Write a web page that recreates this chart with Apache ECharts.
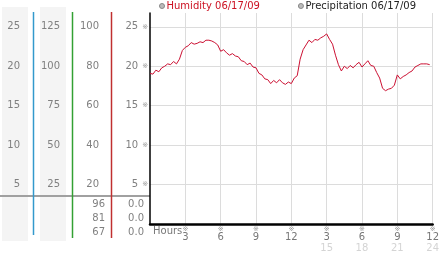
<!DOCTYPE html>
<html><head><meta charset="utf-8">
<script src="https://cdn.jsdelivr.net/npm/echarts@6/dist/echarts.min.js"></script>
<style>html,body{margin:0;padding:0;background:#fff}#c{width:442px;height:253px}</style>
</head><body><div id="c"></div>
<script>
const hours = [0,0.25,0.5,0.75,1,1.25,1.5,1.75,2,2.25,2.5,2.75,3,3.25,3.5,3.75,4,4.25,4.5,4.75,5,5.25,5.5,5.75,
  6,6.25,6.5,6.75,7,7.25,7.5,7.75,8,8.25,8.5,8.75,9,9.25,9.5,9.75,10,10.25,10.5,10.75,11,11.25,11.5,11.75,
  12,12.25,12.5,12.75,13,13.25,13.5,13.75,14,14.25,14.5,14.75,15,15.25,15.5,15.75,16,16.25,16.5,16.75,17,17.25,17.5,17.75,
  18,18.25,18.5,18.75,19,19.25,19.5,19.75,20,20.25,20.5,20.75,21,21.25,21.5,21.75,22,22.25,22.5,22.75,23,23.25,23.5,23.75];
const humidity = [19.1,19.0,19.5,19.3,19.8,20.0,20.3,20.2,20.6,20.3,20.9,22.0,22.4,22.6,23.0,22.8,22.9,23.1,23.0,23.3,23.3,23.2,23.0,22.7,
  21.9,22.1,21.7,21.4,21.6,21.3,21.2,20.7,20.6,20.2,20.4,19.9,19.8,19.1,18.9,18.4,18.3,17.8,18.2,17.9,18.3,17.9,17.7,18.0,
  17.8,18.5,18.8,20.9,22.1,22.7,23.3,23.0,23.4,23.3,23.6,23.8,24.1,23.4,22.8,21.4,20.2,19.4,20.0,19.7,20.1,19.8,20.2,20.5,
  19.9,20.3,20.7,20.1,20.0,19.2,18.5,17.2,16.9,17.1,17.2,17.6,18.9,18.4,18.7,18.9,19.2,19.4,19.9,20.1,20.3,20.3,20.3,20.2];
const precipitation = [];
const seriesNames = ['Humidity 06/17/09', 'Precipitation 06/17/09'];
const xTicks = [3,6,9,12,15,18,21,24];
const xLabelTop = ['3','6','9','12','3','6','9','12'];
const xLabelBottom = ['','','','','15','18','21','24'];
const col1Labels = [5,10,15,20,25];
const col2Labels = [25,50,75,100,125];
const col3Labels = [20,40,60,80,100];
const mainLabels = [5,10,15,20,25];
const rowsA = ['96','81','67'];
const rowsB = ['0.0','0.0','0.0'];

const FONT = 'DejaVu Sans';
const GREY = '#808080';
const MAXV = 26.75;

function sideAxis(factor, labels, offset) {
  return {
    type: 'value', position: 'left', offset: offset, min: 0, max: MAXV * factor, interval: 5 * factor,
    axisLine: {show: false}, axisTick: {show: false}, splitLine: {show: false},
    axisLabel: {
      margin: 0, showMinLabel: false, showMaxLabel: false, color: GREY, fontSize: 10, fontFamily: FONT,
      formatter: function (v) { return labels.indexOf(v) >= 0 ? String(v) : ''; }
    }
  };
}

const chart = echarts.init(document.getElementById('c'), null, {renderer: 'canvas'});
const graphics = [
  {type: 'rect', z: -10, shape: {x: 2, y: 7, width: 26, height: 234}, style: {fill: '#f4f4f4'}},
  {type: 'rect', z: -10, shape: {x: 40, y: 7, width: 26, height: 234}, style: {fill: '#f4f4f4'}},
  {type: 'line', shape: {x1: 0, y1: 196, x2: 150, y2: 196}, style: {stroke: '#a0a0a0', lineWidth: 2}},
  {type: 'line', shape: {x1: 33.5, y1: 12, x2: 33.5, y2: 235}, style: {stroke: '#3399cc', lineWidth: 1.5}},
  {type: 'line', shape: {x1: 72.5, y1: 12, x2: 72.5, y2: 238}, style: {stroke: '#33a033', lineWidth: 1.5}},
  {type: 'line', shape: {x1: 111.5, y1: 12, x2: 111.5, y2: 238}, style: {stroke: '#c03030', lineWidth: 1.5}},
  {type: 'text', left: 153, top: 226, style: {text: 'Hours', fill: '#777', font: '10px "' + FONT + '"'}}
];
const rowY = [204.5, 218, 232];
rowsA.forEach(function (t, i) {
  graphics.push({type: 'text', x: 105, y: rowY[i], style: {text: t, fill: GREY, font: '10px "' + FONT + '"', textAlign: 'right', textVerticalAlign: 'middle'}});
});
rowsB.forEach(function (t, i) {
  graphics.push({type: 'text', x: 144, y: rowY[i], style: {text: t, fill: GREY, font: '10px "' + FONT + '"', textAlign: 'right', textVerticalAlign: 'middle'}});
});

chart.setOption({
  animation: false,
  backgroundColor: '#fff',
  textStyle: {fontFamily: FONT},
  legend: {
    top: 1, left: 159, padding: 0, itemWidth: 5, itemHeight: 5, itemGap: 38, icon: 'circle',
    textStyle: {fontSize: 10, fontFamily: FONT, padding: [0, 0, 0, -3]},
    data: [
      {name: seriesNames[0], itemStyle: {color: '#bbb', borderColor: '#888', borderWidth: 1}, textStyle: {color: '#cc1122'}},
      {name: seriesNames[1], itemStyle: {color: '#bbb', borderColor: '#888', borderWidth: 1}, textStyle: {color: '#222'}}
    ]
  },
  grid: {left: 150, right: 3.7, top: 13, bottom: 26, containLabel: false},
  xAxis: {
    type: 'value', min: 0, max: 24, interval: 3,
    axisLine: {show: true, lineStyle: {color: '#000', width: 2.5}},
    axisTick: {show: false},
    splitLine: {show: true, showMinLine: false, lineStyle: {color: '#dcdcdc', width: 1}},
    axisLabel: {
      margin: 2, showMinLabel: false,
      formatter: function (v) {
        const i = xTicks.indexOf(v);
        if (i < 0) return '';
        let s = '{s|※}\n{n|' + xLabelTop[i] + '}';
        if (xLabelBottom[i]) s += '\n{m|' + xLabelBottom[i] + '}';
        return s;
      },
      rich: {
        s: {fontSize: 7, lineHeight: 6, color: '#999', fontFamily: FONT},
        n: {fontSize: 10, lineHeight: 10, color: '#777', fontFamily: FONT},
        m: {fontSize: 10, lineHeight: 12, color: '#d4d4d4', fontFamily: FONT}
      }
    }
  },
  yAxis: [
    {
      type: 'value', position: 'left', min: 0, max: MAXV, interval: 5,
      axisLine: {show: true, lineStyle: {color: '#000', width: 1.5}},
      axisTick: {show: false},
      splitLine: {show: true, showMinLine: false, showMaxLine: false, lineStyle: {color: '#dcdcdc', width: 1}},
      axisLabel: {
        margin: 2, showMinLabel: false, showMaxLabel: false,
        formatter: function (v) { return mainLabels.indexOf(v) >= 0 ? '{n|' + v + '}{s|※}' : ''; },
        rich: {
          n: {fontSize: 10, color: GREY, fontFamily: FONT},
          s: {fontSize: 7, color: '#999', fontFamily: FONT, padding: [0, 0, 0, 4]}
        }
      }
    },
    sideAxis(4, col3Labels, 51),
    sideAxis(5, col2Labels, 90),
    sideAxis(1, col1Labels, 130)
  ],
  graphic: graphics,
  series: [
    {
      name: seriesNames[0], type: 'line', xAxisIndex: 0, yAxisIndex: 0, showSymbol: false, symbol: 'none',
      lineStyle: {color: '#cc1133', width: 1}, itemStyle: {color: '#cc1133'},
      data: hours.map(function (h, i) { return [h, humidity[i]]; })
    },
    {
      name: seriesNames[1], type: 'bar', xAxisIndex: 0, yAxisIndex: 0, itemStyle: {color: '#888'},
      data: precipitation
    }
  ]
});
</script>
</body></html>
